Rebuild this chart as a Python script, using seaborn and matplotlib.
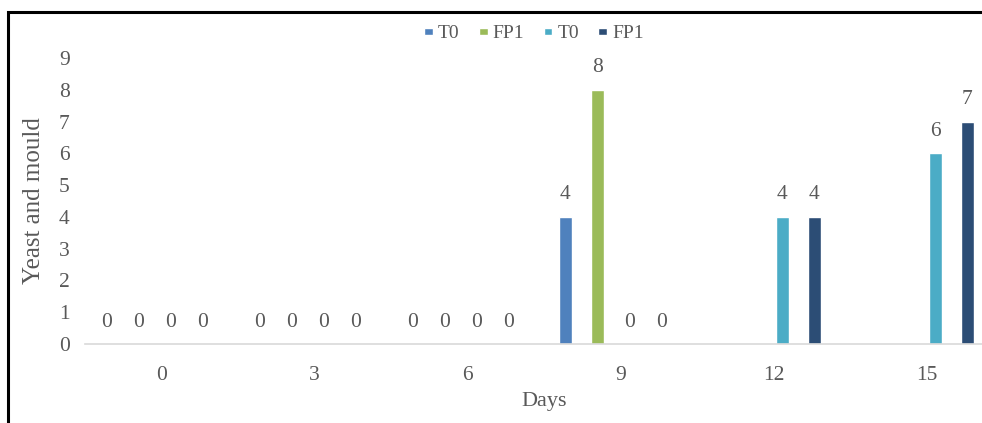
import numpy as np
import pandas as pd
import matplotlib
matplotlib.use("Agg")
import matplotlib.pyplot as plt
from matplotlib.patches import Rectangle
import seaborn as sns

# Yeast and mould counts per storage day for each sample series
days = ["0", "3", "6", "9", "12", "15"]
t0_first = [0, 0, 0, 4, np.nan, np.nan]
fp1_first = [0, 0, 0, 8, np.nan, np.nan]
t0_second = [0, 0, 0, 0, 4, 6]
fp1_second = [0, 0, 0, 0, 4, 7]

series_keys = ["T0_a", "FP1_a", "T0_b", "FP1_b"]
legend_labels = ["T0", "FP1", "T0", "FP1"]
colors = ["#4F81BD", "#9BBB59", "#4BACC6", "#2C4D75"]

df = pd.DataFrame({
    "Days": days * 4,
    "series": np.repeat(series_keys, len(days)),
    "value": t0_first + fp1_first + t0_second + fp1_second,
}).dropna()

sns.set_theme(style="white")
plt.rcParams["font.family"] = ["Liberation Serif", "DejaVu Serif"]
text_color = "#595959"

W, H = 982, 423
fig = plt.figure(figsize=(W / 100, H / 100), dpi=100)
# plot area runs past the right edge of the canvas
ax = fig.add_axes([85 / W, (H - 344) / H, 918 / W, 286 / H])

sns.barplot(data=df, x="Days", y="value", hue="series", order=days,
            hue_order=series_keys, palette=colors, width=0.837, gap=0.59,
            errorbar=None, saturation=1, ax=ax, legend=True)

shift = 0.046
ax.set_xlim(-0.5 + shift, 5.5 + shift)
ax.set_ylim(0, 9)
ax.set_xticks(np.arange(len(days)) + shift)
ax.set_xticklabels(days)
ax.set_yticks(range(0, 10))

for cont in ax.containers:
    ax.bar_label(cont, labels=[f"{b.get_height():g}" for b in cont],
                 padding=9, fontsize=15.5, color=text_color)

for s in ["top", "right", "left"]:
    ax.spines[s].set_visible(False)
ax.spines["bottom"].set_color("#D9D9D9")
ax.spines["bottom"].set_linewidth(1.2)
ax.tick_params(axis="x", length=0, pad=16, labelsize=15.5, labelcolor=text_color)
ax.tick_params(axis="y", length=0, pad=11, labelsize=15.5, labelcolor=text_color)
ax.set_xlabel("Days", fontsize=16, color=text_color, labelpad=5)
ax.set_ylabel("Yeast and mould", fontsize=18, color=text_color, labelpad=10)

handles, _ = ax.get_legend_handles_labels()
ax.get_legend().remove()
fig.legend(handles, legend_labels, loc="center", bbox_to_anchor=(534 / W, 1 - 34 / H),
           ncol=4, frameon=False, fontsize=14, handlelength=0.45, handleheight=0.25,
           handletextpad=0.25, columnspacing=1.0, labelcolor=text_color)

# outer frame around the chart
fig.patches.append(Rectangle((8 / W, -0.1), 1.2, 1 - 12 / H + 0.1,
                             transform=fig.transFigure, fill=False,
                             edgecolor="black", linewidth=2.2, clip_on=False))

fig.savefig("out.png", dpi=100)
